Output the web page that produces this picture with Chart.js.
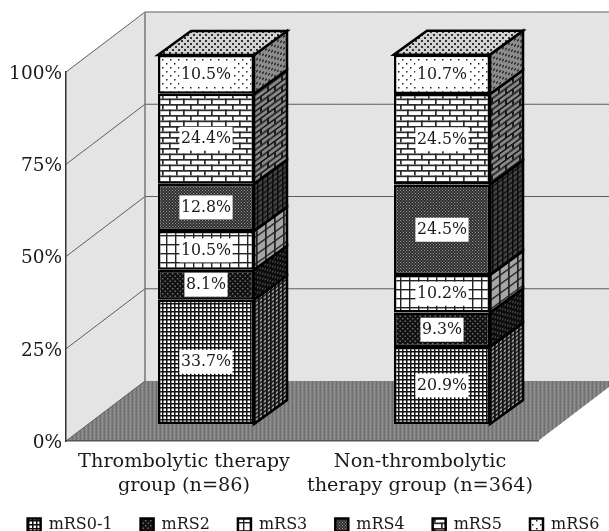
<!DOCTYPE html>
<html><head><meta charset="utf-8">
<style>html,body{margin:0;padding:0;background:#fff}canvas{display:block}</style>
<script src="https://cdn.jsdelivr.net/npm/chart.js@4"></script></head>
<body><canvas id="c" width="609" height="531"></canvas>
<script>
const categories = [["Thrombolytic therapy","group (n=86)"],["Non-thrombolytic","therapy group (n=364)"]];
const seriesNames = ["mRS0-1","mRS2","mRS3","mRS4","mRS5","mRS6"];
const mRS01 = [33.7,20.9];
const mRS2  = [8.1,9.3];
const mRS3  = [10.5,10.2];
const mRS4  = [12.8,24.5];
const mRS5  = [24.4,24.5];
const mRS6  = [10.5,10.7];
const seriesValues = [mRS01,mRS2,mRS3,mRS4,mRS5,mRS6];
const yTicks = [0,25,50,75,100];

const FONT = '"DejaVu Serif"';
const WALL = {dx:79, dy:-60};
const FRONT = {dx:22, dy:-17};
const DEPTH = {dx:33, dy:-24};

function tile(w,h,fn){const c=document.createElement('canvas');c.width=w;c.height=h;const x=c.getContext('2d');fn(x);return x.canvas;}
const ctx0=document.getElementById('c').getContext('2d');
function pat(w,h,fn){return ctx0.createPattern(tile(w,h,fn),'repeat');}
const grid=(p,lw,bg,fg)=>pat(p,p,x=>{x.fillStyle=bg;x.fillRect(0,0,p,p);x.fillStyle=fg;x.fillRect(0,0,p,lw);x.fillRect(0,0,lw,p);});
const dots=(p,s,bg,fg)=>pat(p,p,x=>{x.fillStyle=bg;x.fillRect(0,0,p,p);x.fillStyle=fg;x.fillRect(0,0,s,s);x.fillRect(p/2,p/2,s,s);});
const brick=(w,h,lw,bg,fg)=>pat(w,h*2,x=>{x.fillStyle=bg;x.fillRect(0,0,w,h*2);x.fillStyle=fg;x.fillRect(0,0,w,lw);x.fillRect(0,h,w,lw);x.fillRect(0,0,lw,h);x.fillRect(w/2,h,lw,h);});
const fronts=[grid(4,1.5,'#fff','#111'),dots(5,1.4,'#111','#777'),grid(9,1.4,'#fff','#222'),dots(3,1,'#2e2e2e','#999'),brick(14,5.5,1.7,'#fff','#2a2a2a'),dots(8,1.5,'#fff','#222')];
const sides=[grid(4,1.7,'#999','#111'),dots(5,1.5,'#0c0c0c','#555'),grid(9,1.7,'#a5a5a5','#222'),grid(5,1.5,'#444','#0c0c0c'),brick(14,5.5,2,'#8a8a8a','#1c1c1c'),dots(6,2,'#8c8c8c','#333')];
const topFace=dots(6,2,'#d2d2d2','#333');
const skew=new DOMMatrix().skewY(Math.atan(DEPTH.dy/DEPTH.dx)*180/Math.PI);
sides.forEach(p=>p.setTransform(skew));
const wallFill=pat(5,5,x=>{x.fillStyle='#e6e6e6';x.fillRect(0,0,5,5);x.fillStyle='#dddddd';x.fillRect(0,0,1,1);x.fillRect(3,1,1,1);x.fillRect(1,2,1,1);x.fillRect(4,3,1,1);x.fillRect(2,4,1,1);});
const floorFill=pat(4,3,x=>{x.fillStyle='#7f7f7f';x.fillRect(0,0,4,3);x.fillStyle='#6f6f6f';x.fillRect(0,0,1,3);x.fillStyle='#8d8d8d';x.fillRect(2,0,1,3);x.fillRect(1,1,1,1);});

function poly(c,pts,fill,stroke,lw){c.beginPath();pts.forEach((p,i)=>i?c.lineTo(p[0],p[1]):c.moveTo(p[0],p[1]));c.closePath();if(fill){c.fillStyle=fill;c.fill();}if(stroke){c.strokeStyle=stroke;c.lineWidth=lw;c.lineJoin='miter';c.stroke();}}

const box3d={
  id:'box3d',
  beforeLayout(ch){
    const lg=ch.legend;
    if(lg&&!lg.__wide){
      lg.__wide=true;
      const f=lg._fitRows;
      lg._fitRows=function(...a){const m=this.maxWidth;this.maxWidth=m+60;const r=f.apply(this,a);this.maxWidth=m;return r;};
    }
  },
  afterLayout(ch){
    const lg=ch.legend;
    lg.left=-15;lg.right=642;
    ch.scales.x.bottom=512;
  },
  beforeDraw(ch){
    const c=ch.ctx,a=ch.chartArea,L=a.left,R=a.right,T=a.top,B=a.bottom,W=WALL;
    c.save();
    poly(c,[[L+W.dx,T+W.dy],[ch.width,T+W.dy],[ch.width,B+W.dy],[L+W.dx,B+W.dy]],wallFill);
    poly(c,[[L,T],[L+W.dx,T+W.dy],[L+W.dx,B+W.dy],[L,B]],wallFill);
    poly(c,[[L,B],[L+W.dx,B+W.dy],[R+W.dx,B+W.dy],[R,B]],floorFill);
    c.lineWidth=1;c.strokeStyle='#5e5e5e';
    yTicks.forEach(v=>{
      const y=ch.scales.y.getPixelForValue(v);
      c.beginPath();
      c.moveTo(L,y);c.lineTo(L+W.dx,y+W.dy);
      if(v>0)c.lineTo(ch.width,y+W.dy);
      c.stroke();
    });
    c.strokeStyle='#777';c.lineWidth=1.5;
    c.beginPath();c.moveTo(L+W.dx,T+W.dy);c.lineTo(L+W.dx,B+W.dy);c.stroke();
    c.restore();
  },
  beforeDatasetsDraw(ch){ch.ctx.save();ch.ctx.translate(FRONT.dx,FRONT.dy);},
  afterDatasetsDraw(ch){
    const c=ch.ctx,d=DEPTH,n=ch.data.datasets.length;
    ch.data.datasets.forEach((ds,i)=>{
      ch.getDatasetMeta(i).data.forEach(el=>{
        const r=el.x+el.width/2,t=el.y,b=el.base;
        poly(c,[[r,t],[r+d.dx,t+d.dy],[r+d.dx,b+d.dy],[r,b]],sides[i],'#000',2.5);
        if(i===n-1){const l=el.x-el.width/2;poly(c,[[l,t],[l+d.dx,t+d.dy],[r+d.dx,t+d.dy],[r,t]],topFace,'#000',2.5);}
      });
    });
    c.font='15.8px '+FONT;c.textAlign='center';c.textBaseline='middle';
    ch.data.datasets.forEach((ds,i)=>{
      ch.getDatasetMeta(i).data.forEach((el,j)=>{
        const s=ds.data[j].toFixed(1)+'%',m=c.measureText(s).width,y=(el.y+el.base)/2;
        c.fillStyle='#fff';c.fillRect(el.x-m/2-1.5,y-12,m+3,24);
        c.fillStyle='#1a1a1a';c.fillText(s,el.x,y+0.5);
      });
    });
    c.restore();
  }
};

new Chart(ctx0,{
  type:'bar',
  data:{labels:categories,datasets:seriesNames.map((n,i)=>({
    label:n,data:seriesValues[i],backgroundColor:fronts[i],borderColor:'#000',borderWidth:2.5,borderSkipped:false,
    yAxisID:'y',barPercentage:0.407,categoryPercentage:1,clip:false}))},
  plugins:[box3d],
  options:{
    responsive:false,animation:false,devicePixelRatio:1,
    layout:{padding:{top:72,right:0,left:0,bottom:-12}},
    scales:{
      x:{stacked:true,grid:{display:false,drawTicks:false},border:{color:'#555',width:1.5},
         afterFit(s){s.height=48;},
         ticks:{color:'#1a1a1a',padding:9,maxRotation:0,autoSkip:false,font:{family:FONT,size:19.3,lineHeight:1.25}}},
      y:{stacked:true,min:0,max:100,grid:{display:false,drawTicks:false},border:{color:'#333',width:1.5},
         afterFit(s){s.width=66;},
         afterBuildTicks(s){s.ticks=yTicks.map(v=>({value:v}));},
         ticks:{color:'#1a1a1a',padding:4,labelOffset:2,callback:v=>v+'%',font:{family:FONT,size:18.5}}},
      yPad:{position:'right',grid:{display:false,drawTicks:false},border:{display:false},
         afterFit(s){s.width=71;},
         ticks:{display:false}}
    },
    plugins:{
      tooltip:{enabled:false},
      legend:{position:'bottom',labels:{boxWidth:13,boxHeight:13,padding:28,color:'#1a1a1a',font:{family:FONT,size:16}}}
    }
  }
});
</script></body></html>
